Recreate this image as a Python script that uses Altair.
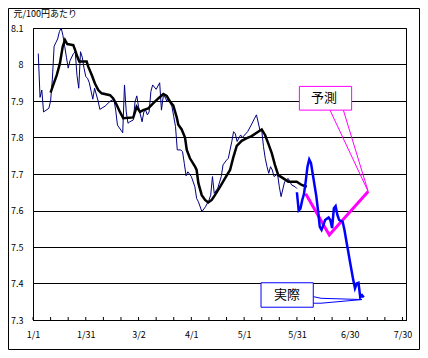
import altair as alt
import pandas as pd

# x values: days counted from 1 January (2005)
thin_day = [3, 4, 5, 6, 9, 10, 11, 12, 13, 14, 15, 16, 17, 18, 19, 20, 21, 23, 24, 25,
            26, 27, 28, 29, 30, 31, 32, 34, 35, 37, 38, 41, 44, 46, 47, 48, 50, 51, 52, 53,
            54, 55, 57, 58, 59, 60, 62, 63, 64, 65, 66, 67, 68, 70, 72, 73, 74, 75, 76, 77,
            78, 79, 80, 81, 82, 84, 85, 86, 87, 88, 90, 92, 93, 94, 96, 98, 100, 101, 102, 103,
            105, 107, 108, 110, 111, 112, 113, 114, 115, 116, 118, 119, 122, 124, 126, 127, 129, 130, 131, 132,
            133, 134, 135, 136, 137, 139, 140, 141, 143, 145, 147, 149, 150]
thin_val = [8.03, 7.91, 7.93, 7.87, 7.88, 7.90, 7.96, 8.05, 8.06, 8.07, 8.09, 8.10, 8.08, 8.05, 8.02, 7.99, 8.01, 8.03, 8.035, 7.97,
            7.935, 8.035, 8.02, 7.99, 7.967, 7.962, 7.95, 7.905, 7.935, 7.90, 7.877, 7.886, 7.90, 7.905, 7.875, 7.834, 7.82, 7.813, 7.944, 7.87,
            7.839, 7.843, 7.848, 7.898, 7.914, 7.884, 7.843, 7.87, 7.875, 7.862, 7.87, 7.926, 7.944, 7.932, 7.95, 7.875, 7.912, 7.912, 7.90, 7.907,
            7.895, 7.884, 7.857, 7.83, 7.766, 7.766, 7.761, 7.729, 7.695, 7.706, 7.693, 7.665, 7.633, 7.624, 7.597, 7.61, 7.628, 7.642, 7.693, 7.647,
            7.661, 7.693, 7.725, 7.738, 7.743, 7.766, 7.789, 7.816, 7.81, 7.789, 7.807, 7.80, 7.816, 7.834, 7.853, 7.862, 7.82, 7.82, 7.775, 7.743,
            7.72, 7.702, 7.72, 7.711, 7.693, 7.70, 7.665, 7.638, 7.679, 7.688, 7.67, 7.665, 7.66]

avg_day = [10, 11.5, 13.5, 15.3, 16.9, 18.2, 19.5, 21, 22.9, 23.9, 25.2, 26.3, 30.5, 31.4, 33.4, 35.2, 37.1, 39, 43.8, 45.6,
           47.6, 49.4, 51.3, 57, 58.9, 60.8, 62.7, 65.5, 68.4, 71.2, 74.1, 76, 77.9, 79.7, 81.7, 82.6, 84.5, 86.4, 87.4, 89.2,
           92.1, 93, 94, 95.9, 97.8, 99.6, 101.6, 103.4, 106.3, 109.1, 112, 113.8, 115.8, 118.6, 121.5, 124.3, 127.1, 130, 131.9, 133.7,
           135.7, 137.5, 139.4, 142.3, 145.1, 149.9, 152.7, 155.6]
avg_val = [7.923, 7.944, 7.971, 8.003, 8.049, 8.067, 8.056, 8.055, 8.053, 8.04, 8.021, 8.008, 8.008, 7.994, 7.971, 7.948, 7.93, 7.921, 7.916, 7.907,
           7.889, 7.87, 7.853, 7.855, 7.884, 7.87, 7.875, 7.88, 7.894, 7.907, 7.919, 7.914, 7.898, 7.888, 7.855, 7.835, 7.822, 7.80, 7.766, 7.743,
           7.72, 7.711, 7.675, 7.642, 7.629, 7.622, 7.629, 7.642, 7.665, 7.688, 7.711, 7.745, 7.777, 7.791, 7.798, 7.804, 7.813, 7.822, 7.807, 7.784,
           7.757, 7.725, 7.697, 7.688, 7.679, 7.679, 7.67, 7.665]

act_day = [150, 151, 152, 153, 154, 155, 156, 157, 158, 159, 160, 161, 162, 163, 164, 165, 166, 168, 169, 170,
           171, 172, 173, 174, 176, 177, 178, 179, 180, 181, 182, 183, 184, 185, 186, 187, 188]
act_val = [7.65, 7.60, 7.605, 7.628, 7.645, 7.68, 7.72, 7.74, 7.73, 7.70, 7.67, 7.64, 7.60, 7.555, 7.547, 7.56, 7.574, 7.581, 7.574, 7.552,
           7.606, 7.612, 7.588, 7.574, 7.569, 7.547, 7.519, 7.492, 7.464, 7.437, 7.41, 7.387, 7.40, 7.402, 7.362, 7.368, 7.362]

fc_day = [155, 168.4, 190.5]
fc_val = [7.646, 7.533, 7.652]

x_ticks = list(range(0, 211, 10))
x_labels = ["1/1", "1/31", "3/2", "4/1", "5/1", "5/31", "6/30", "7/30"]
y_ticks = [7.3, 7.4, 7.5, 7.6, 7.7, 7.8, 7.9, 8.0, 8.1]
y_title = "元/100円あたり"

# callouts (data coordinates)
fc_label = "予測"
fc_box = dict(x=151.4, x2=181.1, y=7.875, y2=7.940, tx=165.4, ty=7.907)
fc_wedge_x = [168.8, 190.5, 176.4]
fc_wedge_y = [7.875, 7.652, 7.875]
act_label = "実際"
act_box = dict(x=129.6, x2=159.3, y=7.335, y2=7.402, tx=144.4, ty=7.3685)
act_wedge_x = [159.3, 163.7, 187.0, 163.7, 159.3]
act_wedge_y = [7.364, 7.3595, 7.356, 7.346, 7.346]

W, H = 373, 292
FONT = "Noto Sans CJK JP"

xscale = alt.Scale(domain=[0, 212], nice=False, zero=False)
yscale = alt.Scale(domain=[7.3, 8.1], nice=False, zero=False)
lab_arr = "[" + ",".join("'%s'" % s for s in x_labels) + "]"
xaxis = alt.Axis(values=x_ticks, labelExpr=f"datum.value % 30 == 0 ? {lab_arr}[datum.value / 30] : ''",
                 title=None, grid=False, ticks=False, tickSize=0, labelPadding=10,
                 labelFlush=False, labelOverlap=False, labelFont=FONT, labelFontSize=9,
                 labelColor="black", domainColor="black", labelAngle=0)
yaxis = alt.Axis(values=y_ticks, format=".1~f", title=y_title, titleAngle=0, titleAlign="left",
                 titleBaseline="middle", titleX=-20, titleY=-15, titleFont=FONT, titleFontSize=9,
                 titleFontWeight="normal", titleColor="black",
                 grid=True, gridColor="black", gridOpacity=1, gridWidth=1,
                 ticks=False, tickSize=0, labelPadding=10, labelFlush=False,
                 labelFont=FONT, labelFontSize=9, labelColor="black", domainColor="black")

X = alt.X("x:Q", scale=xscale, axis=xaxis)
Y = alt.Y("y:Q", scale=yscale, axis=yaxis)

thin_df = pd.DataFrame({"x": thin_day, "y": thin_val})
avg_df = pd.DataFrame({"x": avg_day, "y": avg_val})
act_df = pd.DataFrame({"x": act_day, "y": act_val})
fc_df = pd.DataFrame({"x": fc_day, "y": fc_val})
tick_df = pd.DataFrame({"x": x_ticks})

frame = alt.Chart(pd.DataFrame({"a": [0]})).mark_rect(fill="white", fillOpacity=0, stroke="black", strokeWidth=1).encode(
    x=alt.value(-24.5), x2=alt.value(386.5), y=alt.value(-19.5), y2=alt.value(321.5))

base = alt.Chart(thin_df).mark_line(color="#000080", strokeWidth=1).encode(x=X, y=Y)
avg = alt.Chart(avg_df).mark_line(color="black", strokeWidth=2.5).encode(x=X, y=Y)
fc = alt.Chart(fc_df).mark_line(color="#FF00FF", strokeWidth=3).encode(x=X, y=Y)
act = alt.Chart(act_df).mark_line(color="#0000FF", strokeWidth=2.5).encode(x=X, y=Y)

ticks = alt.Chart(tick_df).mark_rule(color="black", strokeWidth=1).encode(
    x=X, y=alt.value(H - 3), y2=alt.value(H))

fcw_df = pd.DataFrame({"x": fc_wedge_x, "y": fc_wedge_y, "o": list(range(len(fc_wedge_x)))})
fc_wedge = alt.Chart(fcw_df).mark_line(color="#FF00FF", strokeWidth=1).encode(x=X, y=Y, order="o:Q")
acw_df = pd.DataFrame({"x": act_wedge_x, "y": act_wedge_y, "o": list(range(len(act_wedge_x)))})
act_wedge = alt.Chart(acw_df).mark_line(color="#0000FF", strokeWidth=1).encode(x=X, y=Y, order="o:Q")


def box(b, color, label):
    d = pd.DataFrame({"x": [b["x"]], "x2": [b["x2"]], "y": [b["y"]], "y2": [b["y2"]],
                      "tx": [b["tx"]], "ty": [b["ty"]], "t": [label]})
    r = alt.Chart(d).mark_rect(fill="white", stroke=color, strokeWidth=1).encode(
        x=X, x2="x2:Q", y=Y, y2="y2:Q")
    t = alt.Chart(d).mark_text(font=FONT, fontSize=13, color="black", align="center", baseline="middle").encode(
        x=alt.X("tx:Q", scale=xscale, axis=xaxis), y=alt.Y("ty:Q", scale=yscale, axis=yaxis), text="t:N")
    return r, t


fc_r, fc_t = box(fc_box, "#FF00FF", fc_label)
act_r, act_t = box(act_box, "#0000FF", act_label)

chart = alt.layer(
    frame, ticks, base, avg, fc, act, fc_wedge, fc_r, fc_t, act_wedge, act_r, act_t
).properties(
    width=W, height=H,
    padding={"left": 25, "top": 20, "right": 14, "bottom": 30},
    autosize=alt.AutoSizeParams(type="none"),
    background="white",
).configure_view(stroke="black", strokeWidth=1)

chart.save("out.html", embed_options={"renderer": "svg", "actions": False})
